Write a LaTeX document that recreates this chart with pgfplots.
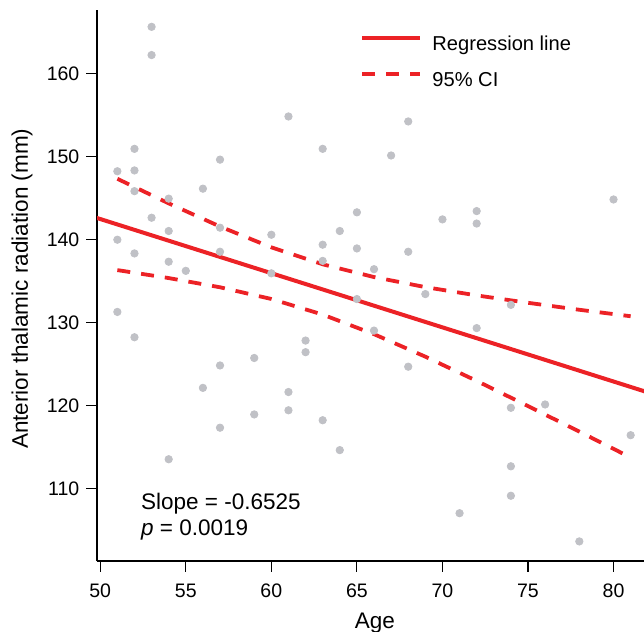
\documentclass[border=0pt]{standalone}
\usepackage{pgfplots}
\pgfplotsset{compat=1.18}
\usepackage{fontspec}
\setmainfont{Liberation Sans}

\definecolor{regred}{RGB}{236,34,38}
\definecolor{ptgray}{RGB}{192,193,198}

\begin{document}
\begin{tikzpicture}
\begin{axis}[
  name=main,
  at={(0,0)}, anchor=south west,
  scale only axis,
  width=273.5bp, height=275.5bp,
  xmin=49.81, xmax=81.78,
  ymin=101.24, ymax=167.63,
  axis x line=bottom, axis y line=left,
  axis line style={-, line width=0.6bp, black},
  xtick={50,55,...,80},
  ytick={110,120,...,160},
  tick align=outside,
  major tick length=5.3bp,
  tick style={line width=0.6bp, black},
  /pgf/number format/assume math mode=true,
  tick label style={font=\fontsize{9.8}{11}\selectfont},
  xticklabel style={yshift=-2.5bp},
  every axis x label/.style={at={(axis description cs:0.508,-0.1234)}, anchor=base},
  every axis y label/.style={at={(axis description cs:-0.137,0.494)}, rotate=90, anchor=center},
  label style={font=\fontsize{11.3}{13}\selectfont},
  xlabel={Age},
  ylabel={Anterior thalamic radiation (mm)},
  clip=true,
  legend style={draw=none, fill=none, at={(axis description cs:0.4808,0.955)}, anchor=north west,
    inner sep=0pt, row sep=8.3bp, font=\fontsize{10.1}{12}\selectfont,
    nodes={inner sep=0pt, text height=7.5bp, text depth=2.2bp}},
  legend cell align=left,
  /tikz/every odd column/.style={column sep=5bp},
  legend image code/.code={\draw[#1, yshift=3.6bp] (0bp,0bp) -- (29bp,0bp);},
]
% data points
\addplot[ptgray, only marks, mark=*, mark size=1.85bp, mark options={draw=none, fill=ptgray}, forget plot] coordinates {
(53,165.6) (53,162.2) (61,154.8) (52,150.9) (63,150.9) (51,148.2) (52,148.3)
(57,149.6) (56,146.1) (52,145.8) (54,144.9) (65,143.25) (53,142.6) (54,141.0)
(64,141.0) (57,141.4) (60,140.55) (63,139.35) (65,138.9) (51,139.95) (52,138.3)
(57,138.5) (63,137.4) (54,137.3) (55,136.2) (60,135.9) (65,132.8) (68,154.2)
(67,150.1) (80,144.8) (72,143.4) (72,141.9) (70,142.4) (68,138.5) (66,136.4)
(69,133.4) (51,131.25) (52,128.2) (62,127.8) (62,126.4) (59,125.7) (57,124.8)
(56,122.1) (61,121.6) (61,119.4) (59,118.9) (63,118.2) (57,117.3) (64,114.6)
(54,113.5) (74,132.1) (66,129.0) (72,129.3) (68,124.65) (74,119.7) (76,120.1)
(81,116.4) (74,112.65) (74,109.1) (71,107.0) (78,103.6)
};
% regression line
\addplot[regred, line width=2bp, no marks] coordinates {(49.5,142.77) (82,121.56)};
\addlegendentry{Regression line}
% 95% CI
\addplot[regred, line width=1.9bp, no marks, dash pattern=on 6.5bp off 5.5bp] coordinates {
(51,147.29) (54,144.33) (57,141.54) (60,139.03) (63,136.99) (66,135.45)
(69,134.24) (72,133.24) (75,132.35) (78,131.51) (81,130.73)
};
\addlegendentry{95\% CI}
\addplot[regred, line width=1.9bp, no marks, dash pattern=on 6.5bp off 5.5bp, forget plot] coordinates {
(51,136.29) (54,135.33) (57,134.22) (60,132.81) (63,130.93) (66,128.57)
(69,125.86) (72,122.94) (75,119.91) (78,116.83) (81,113.71)
};
\node[anchor=north west, align=left, inner sep=0pt, font=\fontsize{11.3}{13}\selectfont]
  at (axis description cs:0.0799,0.1234) {Slope = -0.6525\\\textit{p} = 0.0019};
\end{axis}
\pgfresetboundingbox
\path[use as bounding box] (-48.5bp,-35.5bp) rectangle (273.5bp,280.5bp);
\end{tikzpicture}
\end{document}
